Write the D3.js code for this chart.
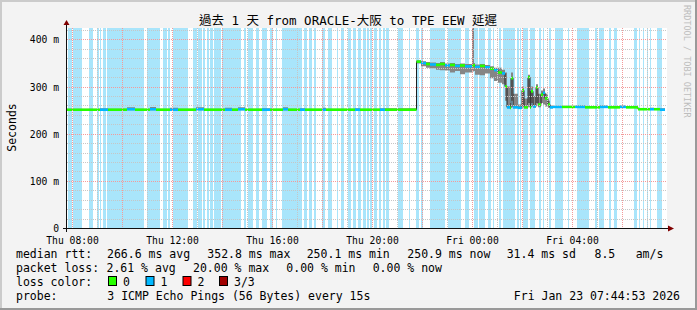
<!DOCTYPE html>
<html>
<head>
<meta charset="utf-8">
<script src="https://cdn.jsdelivr.net/npm/d3@7/dist/d3.min.js"></script>
<style>
	html, body { margin: 0; padding: 0; background: #fff; }
	svg { display: block; }
	text { font-family: "DejaVu Sans Mono", "Noto Sans CJK TC", monospace; fill: #000; }
</style>
</head>
<body>
<div id="visHolder"></div>
<script>
// all times are hours after Thu Jan 22 2026 00:00
const chartTitle = "過去 1 天 from ORACLE-大阪 to TPE EEW 延遲";
const timeRange = [7.8, 31.8];
const yTickValues = [0, 100, 200, 300, 400];
const yTickLabels = ["0", "100 m", "200 m", "300 m", "400 m"];
const xTickHours = [8, 12, 16, 20, 24, 28];

// light blue background bars (start / end hour)
const lossBgStart = [
	7.84, 8.04, 8.68, 9.0, 9.12, 9.24, 9.4, 11.0, 11.64, 11.84, 12.04, 12.84, 13.04, 13.24, 13.4, 13.52, 13.68,
	14.0, 14.88, 15.04, 15.36, 15.6, 15.92, 16.16, 16.4, 17.28, 17.48, 17.68, 18.0, 18.24, 18.6, 18.76, 19.04, 19.24, 19.44, 19.64,
	19.8, 19.92, 20.08, 20.28, 20.44, 20.56, 21.04, 21.48, 21.76, 21.96, 22.32, 23.04, 23.72, 24.08, 24.28, 24.64, 24.84, 25.08, 25.24,
	25.8, 25.92, 26.04, 26.32, 26.68, 26.84, 27.08, 27.32, 27.84, 28.2, 28.92, 29.08, 29.48, 29.68, 30.48, 30.68, 30.84, 31.0, 31.12, 31.4,
];
const lossBgEnd = [
	8.0, 8.4, 8.84, 9.08, 9.16, 9.36, 10.88, 11.52, 11.8, 11.92, 12.64, 13.0, 13.2, 13.32, 13.48, 13.64, 13.96,
	14.76, 14.96, 15.24, 15.48, 15.8, 16.04, 16.2, 17.2, 17.4, 17.6, 17.76, 18.12, 18.4, 18.64, 18.88, 19.16, 19.36, 19.56, 19.76,
	19.88, 20.0, 20.2, 20.36, 20.52, 20.68, 21.24, 21.52, 21.88, 22.04, 22.92, 23.56, 23.88, 24.24, 24.52, 24.76, 24.88, 25.16, 25.72,
	25.88, 25.96, 26.24, 26.52, 26.76, 26.88, 27.16, 27.64, 27.88, 28.68, 29.0, 29.28, 29.56, 29.8, 30.6, 30.72, 30.88, 31.04, 31.16, 31.6,
];

// median rtt runs (ms), each lasting until the next start
const runStart = [
	7.8, 9.12, 9.44, 10.2, 10.52, 11.12, 11.36, 11.92, 12.24, 12.96, 13.28, 14.12, 14.4, 14.64, 14.92, 15.6, 15.92, 16.44, 16.64, 17.12, 17.32, 18.0, 18.16, 19.32, 19.52, 20.32, 20.52,
	21.78, 21.96, 22.16, 22.32, 22.56, 22.72, 22.92, 23.12, 23.32, 23.52, 23.72, 24.0, 24.08, 24.12, 24.32, 24.52, 24.72, 24.88, 25.04, 25.2,
	25.32, 25.4, 25.52, 25.56, 25.64, 25.84, 26.0, 26.08, 26.24, 26.32, 26.36, 26.44, 26.56, 26.64, 26.76, 26.84, 26.92, 27.04, 27.12,
	27.24, 27.6, 28.12, 28.52, 29.12, 29.44, 29.92, 30.16, 30.64, 31.12, 31.28, 31.52,
];
const runEnd = 31.72;
const runMedian = [
	251, 251, 251, 252, 251, 252, 251, 251, 251, 252, 251, 251, 251, 252, 251, 251, 251, 252, 251, 251, 251, 251, 251, 251, 251, 251, 251,
	353, 350, 348, 347, 346, 348, 345, 346, 344, 345, 343, 345, 345, 342, 344, 341, 338, 335, 330, 328,
	300, 256, 255, 318, 256, 255, 292, 256, 320, 256, 290, 258, 298, 262, 283, 287, 275, 262, 256,
	257, 257, 257, 256, 257, 256, 257, 256, 252, 252, 252, 251,
];
const runLoss = [
	0, 1, 0, 1, 0, 1, 0, 1, 0, 1, 0, 1, 0, 1, 0, 1, 0, 1, 0, 1, 0, 1, 0, 1, 0, 1, 0,
	0, 1, 0, 1, 0, 0, 1, 0, 1, 0, 1, 0, 0, 1, 0, 1, 0, 1, 0, 1,
	0, 1, 0, 0, 1, 1, 0, 0, 0, 0, 0, 1, 0, 0, 0, 1, 0, 0, 1,
	1, 0, 1, 0, 1, 0, 1, 0, 0, 1, 0, 1,
];
const runLow = [
	250, 250, 250, 250, 250, 250, 250, 250, 250, 250, 250, 250, 250, 250, 250, 250, 250, 250, 250, 250, 250, 250, 250, 250, 250, 250, 250,
	349, 343, 340, 339, 336, 335, 334, 330, 333, 326, 330, 332, 333, 325, 324, 328, 318, 312, 308, 305,
	270, 254, 253, 270, 254, 253, 260, 254, 265, 254, 265, 255, 265, 256, 265, 262, 258, 255, 254,
	255, 255, 255, 255, 255, 255, 255, 255, 251, 251, 251, 250,
];
const runHigh = [
	253, 254, 253, 256, 253, 257, 253, 255, 253, 256, 253, 255, 253, 256, 253, 254, 253, 256, 253, 254, 253, 255, 253, 254, 253, 254, 254,
	356, 354, 352, 351, 350, 352, 349, 350, 348, 349, 348, 430, 350, 347, 348, 346, 343, 340, 340, 336,
	330, 300, 265, 330, 285, 262, 300, 275, 325, 290, 300, 280, 305, 285, 292, 296, 285, 270, 260,
	259, 259, 260, 259, 260, 259, 260, 259, 254, 255, 254, 254,
];

const lossLabels = ["0", "1", "2", "3/3"];
const lossColors = ["#26ff00", "#00b8ff", "#ff0000", "#a00000"];
const rttLegend = ["median rtt:", "266.6 ms avg", "352.8 ms max", "250.1 ms min", "250.9 ms now", "31.4 ms sd", "8.5", "am/s"];
const packetLegend = ["packet loss:", "2.61 % avg", "20.00 % max", "0.00 % min", "0.00 % now"];
const probeLegend = ["probe:", "3 ICMP Echo Pings (56 Bytes) every 15s"];
const stampText = "Fri Jan 23 07:44:53 2026";

const options = {
	width: 697,
	height: 310,
	plot: { left: 67, right: 667, top: 28, bottom: 228 },
	yMax: 424.4,
	rows: [258, 272, 286, 300],
	rttX: [16, 107, 207.3, 306.7, 407.3, 506.7, 594.5, 635.7],
	packetX: [16, 106.5, 193, 286.3, 372.7],
	swatchX: [108, 145.5, 182.5, 219],
	probeX: [16, 107.3],
	stampRight: 680,
};

const hourToDate = (h) => new Date(2026, 0, 22, 0, 0, 0, Math.round(h * 3600000));

Chart(options);

function Chart({ width, height, plot, yMax, rows, rttX, packetX, swatchX, probeX, stampRight }) {
	const svg = d3
		.select("#visHolder")
		.append("svg")
		.attr("width", width)
		.attr("height", height)
		.attr("viewBox", [0, 0, width, height]);

	//frame
	svg.append("rect").attr("width", width).attr("height", height).attr("fill", "#999999");
	svg.append("rect").attr("width", width - 2).attr("height", height - 2).attr("fill", "#cbcbcb");
	svg.append("rect").attr("x", 2).attr("y", 2).attr("width", width - 4).attr("height", height - 4).attr("fill", "#f3f3f3");

	//scales
	const x = d3.scaleTime().domain(timeRange.map(hourToDate)).range([plot.left, plot.right]);
	const y = d3.scaleLinear().domain([0, yMax]).range([plot.bottom, plot.top]);

	//canvas
	svg.append("rect")
		.attr("x", plot.left)
		.attr("y", plot.top)
		.attr("width", plot.right - plot.left)
		.attr("height", plot.bottom - plot.top)
		.attr("fill", "#ffffff");

	const chartArea = svg.append("g");

	//loss background bars
	chartArea
		.selectAll("rect.bg")
		.data(d3.zip(lossBgStart, lossBgEnd))
		.join("rect")
		.attr("class", "bg")
		.attr("x", (d) => x(hourToDate(d[0])))
		.attr("width", (d) => x(hourToDate(d[1])) - x(hourToDate(d[0])))
		.attr("y", plot.top)
		.attr("height", plot.bottom - plot.top)
		.attr("fill", "#a9e5fb");

	//runs
	const runs = runStart.map((s, i) => ({
		t0: hourToDate(s),
		t1: hourToDate(i < runStart.length - 1 ? runStart[i + 1] : runEnd),
		median: runMedian[i],
		loss: runLoss[i],
		lo: runLow[i],
		hi: runHigh[i],
	}));
	const stepPoints = runs.concat([{ ...runs[runs.length - 1], t0: runs[runs.length - 1].t1 }]);

	//smoke
	chartArea
		.append("path")
		.datum(stepPoints)
		.attr("fill", "#858585")
		.attr(
			"d",
			d3.area().curve(d3.curveStepAfter).x((d) => x(d.t0)).y0((d) => y(d.lo)).y1((d) => y(Math.min(d.hi, yMax)))
		);

	//thin median line
	chartArea
		.append("path")
		.datum(stepPoints)
		.attr("fill", "none")
		.attr("stroke", "#202020")
		.attr("stroke-width", 1)
		.attr("d", d3.line().curve(d3.curveStepAfter).x((d) => x(d.t0)).y((d) => y(d.median)));

	//loss coloured median
	chartArea
		.selectAll("line.med")
		.data(runs)
		.join("line")
		.attr("class", "med")
		.attr("x1", (d) => x(d.t0))
		.attr("x2", (d) => x(d.t1))
		.attr("y1", (d) => y(d.median))
		.attr("y2", (d) => y(d.median))
		.attr("stroke", (d) => lossColors[d.loss])
		.attr("stroke-width", 2.6);

	//grid
	const grid = svg.append("g").attr("fill", "none").attr("stroke-dasharray", "1,1");
	const minorY = d3.range(20, yMax, 20).filter((v) => v % 100 !== 0);
	grid.selectAll("line.hy")
		.data(minorY)
		.join("line")
		.attr("x1", plot.left)
		.attr("x2", plot.right)
		.attr("y1", (d) => Math.round(y(d)) + 0.5)
		.attr("y2", (d) => Math.round(y(d)) + 0.5)
		.attr("stroke", "#c6c6c6");
	const hours = x.ticks(d3.timeHour.every(1));
	grid.selectAll("line.vx")
		.data(hours.filter((d) => d.getHours() % 2 !== 0))
		.join("line")
		.attr("x1", (d) => Math.round(x(d)) + 0.5)
		.attr("x2", (d) => Math.round(x(d)) + 0.5)
		.attr("y1", plot.top)
		.attr("y2", plot.bottom)
		.attr("stroke", "#c6c6c6");
	grid.selectAll("line.my")
		.data(yTickValues.filter((v) => v > 0))
		.join("line")
		.attr("x1", plot.left)
		.attr("x2", plot.right)
		.attr("y1", (d) => Math.round(y(d)) + 0.5)
		.attr("y2", (d) => Math.round(y(d)) + 0.5)
		.attr("stroke", "#f39a9a");
	grid.selectAll("line.mx")
		.data(hours.filter((d) => d.getHours() % 2 === 0))
		.join("line")
		.attr("x1", (d) => Math.round(x(d)) + 0.5)
		.attr("x2", (d) => Math.round(x(d)) + 0.5)
		.attr("y1", plot.top)
		.attr("y2", plot.bottom + 2)
		.attr("stroke", "#f39a9a");

	//axes lines and arrows
	svg.append("line")
		.attr("x1", plot.left - 4).attr("x2", plot.right + 2)
		.attr("y1", plot.bottom + 0.5).attr("y2", plot.bottom + 0.5)
		.attr("stroke", "#101010");
	svg.append("line")
		.attr("x1", plot.left - 0.5).attr("x2", plot.left - 0.5)
		.attr("y1", plot.bottom + 4).attr("y2", plot.top - 4)
		.attr("stroke", "#101010");
	svg.append("path")
		.attr("d", `M${plot.right + 1},${plot.bottom - 2.5}L${plot.right + 7},${plot.bottom + 0.5}L${plot.right + 1},${plot.bottom + 3.5}Z`)
		.attr("fill", "#800000");
	svg.append("path")
		.attr("d", `M${plot.left - 3.5},${plot.top - 3}L${plot.left - 0.5},${plot.top - 8}L${plot.left + 2.5},${plot.top - 3}Z`)
		.attr("fill", "#800000");

	//axis labels
	const xAxis = svg
		.append("g")
		.attr("transform", `translate(0, ${plot.bottom})`)
		.call(
			d3.axisBottom(x)
				.tickValues(xTickHours.map(hourToDate))
				.tickFormat(d3.timeFormat("%a %H:%M"))
				.tickSize(0)
				.tickPadding(9)
		);
	const yAxis = svg
		.append("g")
		.attr("transform", `translate(${plot.left - 8}, 0)`)
		.call(d3.axisLeft(y).tickValues(yTickValues).tickFormat((d, i) => yTickLabels[i]).tickSize(0).tickPadding(0));
	[xAxis, yAxis].forEach((a) => {
		a.select(".domain").remove();
		a.selectAll("text").attr("font-family", null).attr("font-size", null).style("font-size", "9.7px").attr("fill", "#000");
	});
	yAxis.selectAll("text").attr("dy", "0.36em");

	//title
	svg.append("text")
		.attr("x", 348)
		.attr("y", 25)
		.attr("text-anchor", "middle")
		.style("font-size", "12.5px")
		.text(chartTitle);

	//y label
	svg.append("text")
		.attr("transform", "translate(16, 127.5) rotate(-90)")
		.attr("text-anchor", "middle")
		.style("font-size", "11.5px")
		.text("Seconds");

	//watermark
	svg.append("text")
		.attr("transform", "translate(684, 5) rotate(90)")
		.attr("dy", "-0.05em")
		.style("font-size", "8.5px")
		.style("fill", "#bdbdbd")
		.text("RRDTOOL / TOBI OETIKER");

	//legend
	const legend = svg.append("g").style("font-size", "11.5px");
	const addRow = (items, xs, row) =>
		legend.append("g")
			.selectAll("text")
			.data(items)
			.join("text")
			.attr("x", (_d, i) => xs[i])
			.attr("y", rows[row])
			.text((d) => d);
	addRow(rttLegend, rttX, 0);
	addRow(packetLegend, packetX, 1);
	addRow(["loss color:"], [16], 2);
	addRow(probeLegend, probeX, 3);
	legend.append("text").attr("x", stampRight).attr("y", rows[3]).attr("text-anchor", "end").text(stampText);

	const swatches = legend.selectAll("g.sw").data(lossLabels).join("g").attr("class", "sw");
	swatches.append("rect")
		.attr("x", (_d, i) => swatchX[i] + 0.5)
		.attr("y", rows[2] - 9.5)
		.attr("width", 8)
		.attr("height", 9)
		.attr("fill", (_d, i) => lossColors[i])
		.attr("stroke", "#000");
	swatches.append("text")
		.attr("x", (_d, i) => swatchX[i] + 15)
		.attr("y", rows[2])
		.text((d) => d);
}
</script>
</body>
</html>
